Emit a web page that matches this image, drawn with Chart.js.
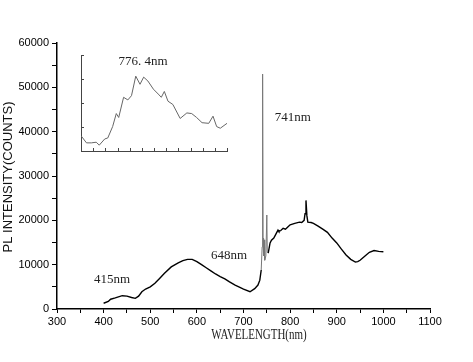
<!DOCTYPE html>
<html>
<head>
<meta charset="utf-8">
<script src="https://cdn.jsdelivr.net/npm/chart.js@4/dist/chart.umd.min.js"></script>
<style>
html, body { margin: 0; padding: 0; background: #fff; }
#wrap { position: relative; width: 473px; height: 362px; }
#main { position: absolute; left: 0; top: 0; }
#inset { position: absolute; left: 71px; top: 45px; }
</style>
</head>
<body>
<div id="wrap">
  <canvas id="main" width="473" height="362"></canvas>
  <canvas id="inset" width="166" height="116"></canvas>
</div>
<script>
// main spectrum
const wavelengths = [400, 410, 415, 425, 440, 450, 460, 468, 475, 482, 490, 500, 510, 520, 530, 545, 560, 570, 580, 590,
  600, 610, 620, 630, 640, 650, 660, 670, 682, 690, 700, 714, 724, 731, 735, 738, 740, 741, 742, 743,
  744, 745, 746, 748, 750, 751, 753, 757, 760, 765, 770, 774, 776, 780, 785, 790, 795, 800, 810, 820,
  825, 830, 832, 834, 836, 838, 845, 850, 860, 870, 880, 890, 900, 910, 920, 930, 940, 945, 950, 960,
  970, 980, 990, 1000];
const counts = [1300, 1700, 2200, 2500, 3000, 2900, 2600, 2400, 2900, 3900, 4500, 5000, 5800, 6900, 8000, 9500, 10400, 10900, 11200, 11200,
  10700, 10000, 9300, 8600, 7900, 7300, 6800, 6100, 5400, 5000, 4500, 3900, 4600, 5400, 6500, 8800, 14000, 53000, 16000, 12000,
  15600, 14500, 11000, 12000, 21200, 13000, 12600, 14900, 15500, 16000, 17000, 17800, 17500, 17700, 18200, 18000, 18500, 19000, 19300, 19600,
  19500, 20000, 21500, 24500, 21000, 19600, 19500, 19300, 18700, 18000, 17300, 16000, 14900, 13500, 12200, 11200, 10600, 10700, 11000, 11900,
  12800, 13200, 13000, 12900];

// inset (zoom around 776.4 nm)
const insetWavelengths = [766.0, 766.9, 767.7, 768.5, 769.0, 769.9, 770.4, 771.2, 771.8, 772.2, 773.0, 773.7, 774.3, 775.0, 775.7, 776.3, 777.0,
  777.9, 778.7, 779.2, 779.7, 780.3, 781.1, 782.3, 783.4, 784.2, 785.0, 785.9, 787.0, 787.7, 788.3, 788.9, 790.0];
const insetCounts = [47, 25, 25, 27, 18, 37, 40, 75, 115, 103, 165, 157, 170, 230, 205, 227, 215,
  190, 175, 165, 183, 153, 143, 100, 117, 115, 103, 87, 85, 107, 75, 70, 85];

const peakLabels = [
  { x: 418, y: 6550, text: '415nm' },
  { x: 669, y: 11960, text: '648nm' },
  { x: 806, y: 43100, text: '741nm' }
];
const insetLabel = { x: 776.2, y: 275, text: '776. 4nm' };

const mainPoints = wavelengths.map((w, i) => ({ x: w, y: counts[i] }));
const insetPoints = insetWavelengths.map((w, i) => ({ x: w, y: insetCounts[i] }));

const textPlugin = {
  id: 'texts',
  afterDraw(chart) {
    const ctx = chart.ctx;
    const x = chart.scales.x, y = chart.scales.y;
    ctx.save();
    ctx.fillStyle = '#222';
    ctx.font = '13px "Liberation Serif"';
    ctx.textAlign = 'center';
    ctx.textBaseline = 'middle';
    peakLabels.forEach(p => ctx.fillText(p.text, x.getPixelForValue(p.x), y.getPixelForValue(p.y)));

    // x title
    ctx.save();
    ctx.translate(259, 335);
    ctx.scale(0.73, 1);
    ctx.font = '15px "Liberation Serif"';
    ctx.fillText('WAVELENGTH(nm)', 0, 0);
    ctx.restore();

    // y title
    ctx.save();
    ctx.translate(8, 177);
    ctx.rotate(-Math.PI / 2);
    ctx.font = '13px "Liberation Sans"';
    ctx.fillStyle = '#111';
    ctx.fillText('PL INTENSITY(COUNTS)', 0, 0);
    ctx.restore();
    ctx.restore();
  }
};

const tickFont = { family: 'Liberation Sans', size: 11 };

new Chart(document.getElementById('main'), {
  type: 'line',
  data: {
    datasets: [{
      data: mainPoints,
      borderColor: '#000',
      borderWidth: 1.4,
      pointRadius: 0,
      tension: 0,
      segment: {
        borderColor: c => (c.p0.parsed.x >= 738 && c.p1.parsed.x <= 753) ? '#777' : '#000',
        borderWidth: c => (c.p0.parsed.x >= 738 && c.p1.parsed.x <= 753) ? 1 : 1.4
      }
    }]
  },
  options: {
    responsive: false,
    animation: false,
    layout: { padding: { left: 0, top: 43, right: 43, bottom: 0 } },
    plugins: { legend: { display: false }, tooltip: { enabled: false } },
    scales: {
      x: {
        type: 'linear', min: 300, max: 1100,
        ticks: { stepSize: 50, autoSkip: false, maxRotation: 0, padding: 2, color: '#000', font: tickFont,
          callback: v => v % 100 === 0 ? v : '' },
        grid: { drawOnChartArea: false, drawTicks: true, tickLength: 4, color: '#000' },
        border: { display: true, color: '#000', width: 1.5 },
        afterFit: s => { s.height = 53; }
      },
      y: {
        min: 0, max: 60000,
        ticks: { stepSize: 5000, autoSkip: false, padding: 3, color: '#000', font: tickFont,
          callback: v => v % 10000 === 0 ? v : '' },
        grid: { drawOnChartArea: false, drawTicks: true, tickLength: 5, color: '#000' },
        border: { display: true, color: '#000', width: 1.5 },
        afterFit: s => { s.width = 57; }
      }
    }
  },
  plugins: [textPlugin]
});

// inward tick marks + label for the inset
const insetPlugin = {
  id: 'insetTicks',
  afterDraw(chart) {
    const ctx = chart.ctx;
    const x = chart.scales.x, y = chart.scales.y;
    const a = chart.chartArea;
    ctx.save();
    ctx.strokeStyle = '#444';
    ctx.lineWidth = 1;
    ctx.beginPath();
    x.ticks.forEach(t => {
      const px = Math.round(x.getPixelForValue(t.value)) + 0.5;
      ctx.moveTo(px, a.bottom); ctx.lineTo(px, a.bottom - 3);
    });
    y.ticks.forEach(t => {
      const py = Math.round(y.getPixelForValue(t.value)) + 0.5;
      ctx.moveTo(a.left, py); ctx.lineTo(a.left + 3, py);
    });
    ctx.stroke();
    ctx.fillStyle = '#222';
    ctx.font = '13px "Liberation Serif"';
    ctx.textAlign = 'center';
    ctx.textBaseline = 'middle';
    ctx.fillText(insetLabel.text, x.getPixelForValue(insetLabel.x), y.getPixelForValue(insetLabel.y));
    ctx.restore();
  }
};

new Chart(document.getElementById('inset'), {
  type: 'line',
  data: {
    datasets: [{
      data: insetPoints,
      borderColor: '#666',
      borderWidth: 1,
      pointRadius: 0,
      tension: 0
    }]
  },
  options: {
    responsive: false,
    animation: false,
    layout: { padding: { left: 10, top: 10, right: 10, bottom: 10 } },
    plugins: { legend: { display: false }, tooltip: { enabled: false } },
    scales: {
      x: {
        type: 'linear', min: 766, max: 790,
        ticks: { display: false, stepSize: 2 },
        grid: { display: false },
        border: { display: true, color: '#444', width: 1 },
        afterFit: s => { s.height = 0; }
      },
      y: {
        min: 0, max: 295,
        ticks: { display: false, stepSize: 73.75 },
        grid: { display: false },
        border: { display: true, color: '#444', width: 1 },
        afterFit: s => { s.width = 0; }
      }
    }
  },
  plugins: [insetPlugin]
});
</script>
</body>
</html>
